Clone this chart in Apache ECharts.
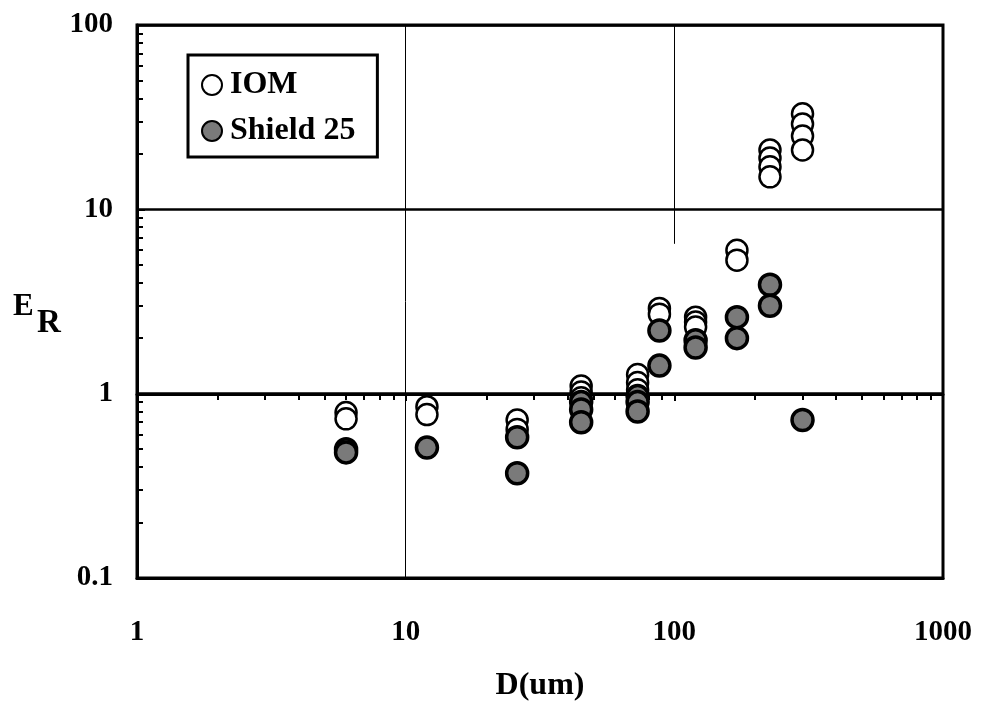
<!DOCTYPE html>
<html>
<head>
<meta charset="utf-8">
<title>E_R vs D</title>
<script src="https://cdn.jsdelivr.net/npm/echarts@6/dist/echarts.min.js"></script>
<style>
  html, body { margin: 0; padding: 0; background: #fff; }
  #chart { width: 983px; height: 705px; }
</style>
</head>
<body>
<div id="chart"></div>
<script>
// particle diameter (um) and efficiency ratio
const iomD  = [6, 6, 12, 12, 26, 26, 45, 45, 45, 73, 73, 73, 88, 88, 120, 120, 120, 171, 171, 227, 227, 227, 227, 300, 300, 300, 300]
const iomER = [0.79, 0.73, 0.85, 0.77, 0.72, 0.64, 1.1, 1.02, 0.95, 1.27, 1.15, 1.05, 2.9, 2.7, 2.6, 2.45, 2.3, 6.0, 5.3, 21, 19, 17, 15, 33, 29, 25, 21]

const shieldD  = [6, 6, 12, 26, 26, 45, 45, 45, 73, 73, 73, 88, 88, 120, 120, 171, 171, 227, 227, 300]
const shieldER = [0.5, 0.48, 0.51, 0.58, 0.37, 0.9, 0.82, 0.7, 0.97, 0.9, 0.8, 2.2, 1.42, 1.95, 1.78, 2.6, 2.0, 3.9, 3.0, 0.72]

const xTickLabels = ['1', '10', '100', '1000']
const yTickLabels = ['0.1', '1', '10', '100']

// vertical grid lines: [D, from E_R, to E_R] (the one at 100 stops part way in the original)
const vGrid = [[10, 0.1, 100], [100, 6.5, 100]]

const zip = (xs, ys) => xs.map((x, i) => [x, ys[i]])

const serif = '"Liberation Serif", "DejaVu Serif", serif'
const bold = (size) => ({ fontFamily: serif, fontWeight: 'bold', fontSize: size, color: '#000' })

let myChart = echarts.init(document.getElementById('chart'))

let option = {
  backgroundColor: '#fff',
  animation: false,
  grid: {
    left: 137,
    right: 40,
    top: 25,
    bottom: 127,
    outerBoundsMode: 'none',
    containLabel: false,
    show: true,
    borderColor: '#000',
    borderWidth: 3,
  },
  legend: {
    left: 188,
    top: 55,
    orient: 'vertical',
    padding: [14, 22, 10, 13],
    itemGap: 14,
    itemWidth: 26,
    itemHeight: 20,
    borderColor: '#000',
    borderWidth: 3,
    backgroundColor: '#fff',
    textStyle: bold(32),
    data: ['IOM', 'Shield 25'],
  },
  graphic: [
    {
      type: 'text',
      style: { x: 13, y: 322, text: 'E', verticalAlign: 'bottom', font: 'bold 31px ' + serif, fill: '#000' },
    },
    {
      type: 'text',
      style: { x: 37, y: 340, text: 'R', verticalAlign: 'bottom', font: 'bold 33px ' + serif, fill: '#000' },
    },
  ],
  xAxis: [
    {
      type: 'log',
      logBase: 10,
      min: 1,
      max: 1000,
      name: 'D(um)',
      nameLocation: 'middle',
      nameGap: 92,
      nameTextStyle: bold(32),
      axisLine: { lineStyle: { color: '#000', width: 3 } },
      axisTick: { show: false },
      axisLabel: {
        margin: 40,
        ...bold(29),
        formatter: (v) => xTickLabels[Math.round(Math.log10(v))] || '',
      },
      splitLine: { show: false },
    },
    {
      // tick marks drawn along the E_R = 1 line
      type: 'log',
      logBase: 10,
      min: 1,
      max: 1000,
      position: 'bottom',
      offset: -184,
      axisLine: { show: true, lineStyle: { color: '#000', width: 3 } },
      axisTick: { show: true, length: 7, lineStyle: { color: '#000', width: 2 } },
      minorTick: { show: true, splitNumber: 9, length: 6, lineStyle: { color: '#000', width: 2 } },
      axisLabel: { show: false },
      splitLine: { show: false },
    },
  ],
  yAxis: {
    type: 'log',
    logBase: 10,
    min: 0.1,
    max: 100,
    axisLine: { lineStyle: { color: '#000', width: 3 } },
    axisTick: { show: true, inside: true, length: 8, lineStyle: { color: '#000', width: 2 } },
    minorTick: { show: true, splitNumber: 9, length: 6, lineStyle: { color: '#000', width: 2 } },
    axisLabel: {
      margin: 24,
      ...bold(29),
      formatter: (v) => yTickLabels[Math.round(Math.log10(v)) + 1] || '',
    },
    splitLine: { show: true, lineStyle: { color: '#000', width: 2.5 } },
  },
  series: [
    {
      name: 'IOM',
      type: 'scatter',
      symbol: 'circle',
      symbolSize: 21,
      z: 3,
      itemStyle: { color: '#fff', borderColor: '#000', borderWidth: 2.5, opacity: 1 },
      markLine: {
        silent: true,
        symbol: 'none',
        z: 1,
        label: { show: false },
        lineStyle: { color: '#000', width: 1, type: 'solid' },
        data: vGrid.map(([d, y0, y1]) => [{ coord: [d, y0] }, { coord: [d, y1] }]),
      },
      data: zip(iomD, iomER),
    },
    {
      name: 'Shield 25',
      type: 'scatter',
      symbol: 'circle',
      symbolSize: 21,
      z: 4,
      itemStyle: { color: '#7a7a7a', borderColor: '#000', borderWidth: 3.5, opacity: 1 },
      data: zip(shieldD, shieldER),
    },
  ],
}

myChart.setOption(option)
</script>
</body>
</html>
